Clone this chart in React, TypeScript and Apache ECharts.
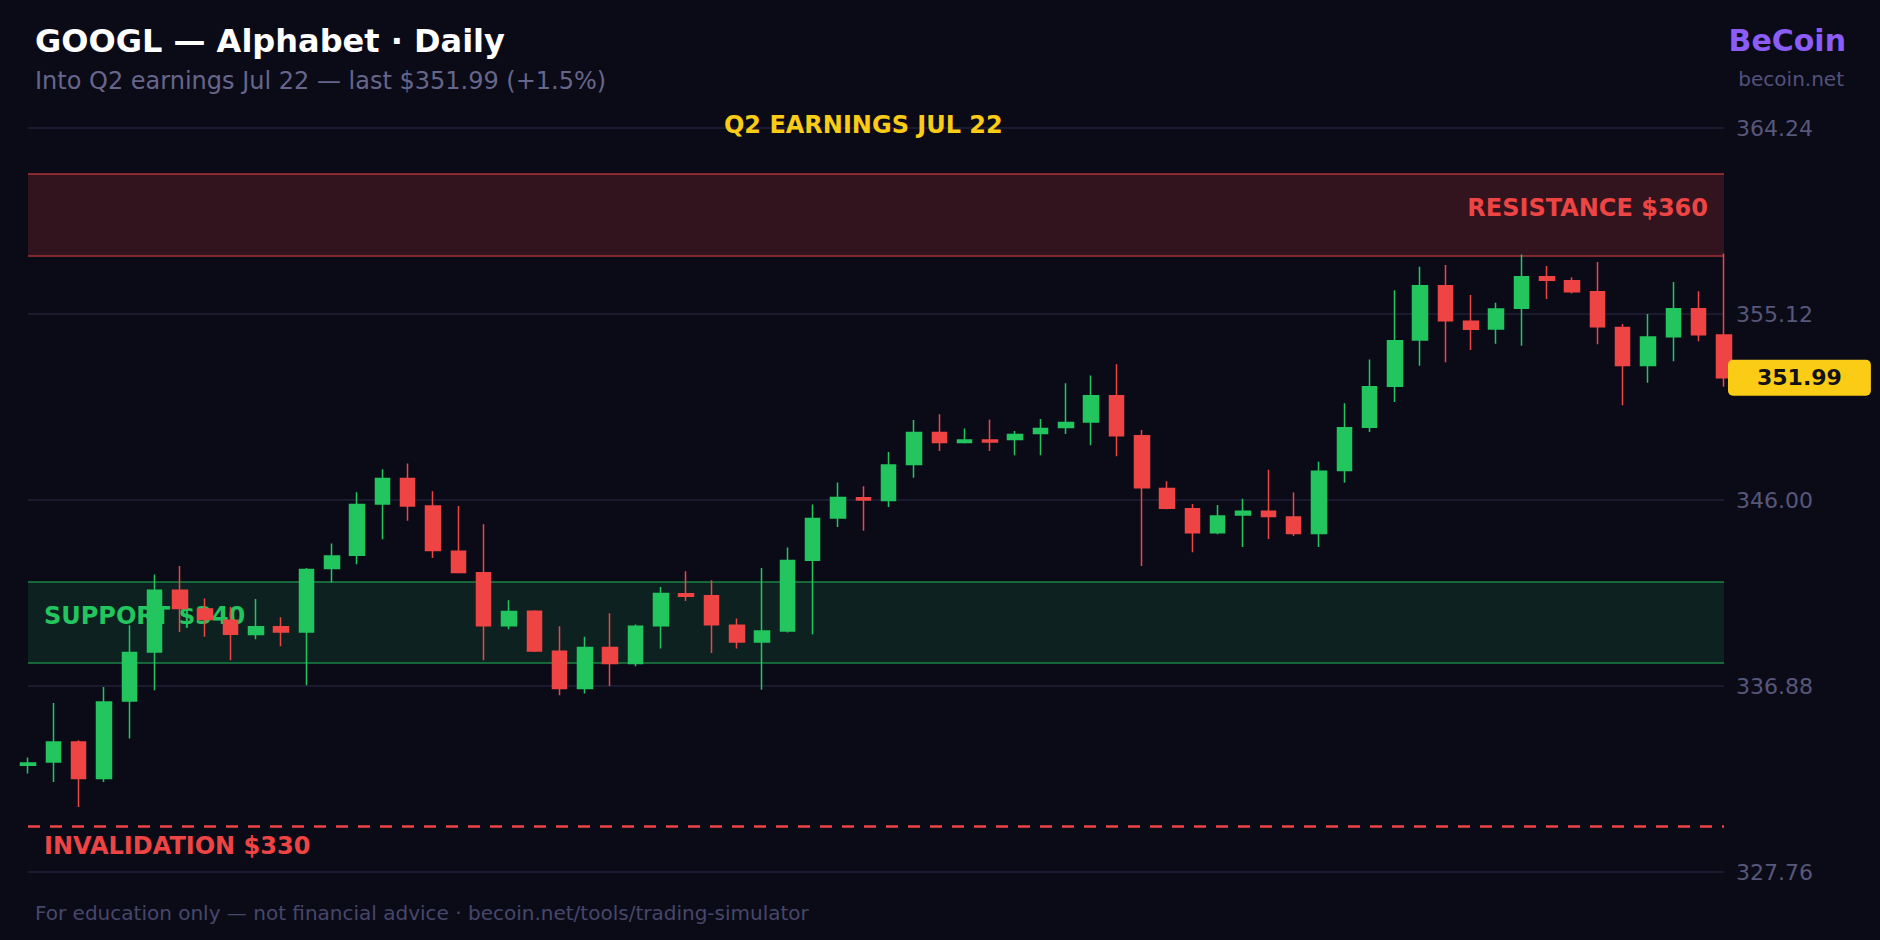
import React, { useEffect, useRef } from "react";
import * as echarts from "echarts";

// ---------- data ----------
const categories = Array.from({ length: 68 }, (_, i) => `D${i + 1}`);

const opens = [
  333.0, 333.15, 334.14, 332.34, 336.15, 338.55, 341.58, 340.65, 340.11, 339.4,
  339.78, 339.53, 342.64, 343.29, 345.81, 347.06, 345.7, 343.49, 342.43, 339.83,
  340.55, 338.59, 336.76, 338.77, 337.98, 339.83, 341.4, 341.3, 339.86, 339.04,
  339.58, 343.05, 345.12, 346.11, 345.98, 347.74, 349.31, 348.82, 348.94, 348.97,
  349.26, 349.56, 349.83, 351.11, 349.15, 346.57, 345.57, 344.39, 345.26, 345.45,
  345.17, 344.36, 347.45, 349.57, 351.58, 353.84, 356.5, 354.77, 354.38, 355.4,
  356.95, 356.75, 356.21, 354.46, 352.6, 354.0, 355.38, 354.09,
];
const closes = [
  333.1, 334.14, 332.34, 336.1, 338.52, 341.58, 340.68, 340.14, 339.42, 339.78,
  339.53, 342.59, 343.26, 345.78, 347.06, 345.71, 343.52, 342.45, 339.83, 340.53,
  338.6, 336.76, 338.77, 337.98, 339.81, 341.42, 341.28, 339.88, 339.04, 339.58,
  343.03, 345.09, 346.12, 346.0, 347.72, 349.31, 348.82, 348.94, 348.84, 349.21,
  349.51, 349.8, 351.11, 349.15, 346.6, 345.59, 344.39, 345.22, 345.45, 345.19,
  344.36, 347.41, 349.54, 351.55, 353.81, 356.5, 354.79, 354.37, 355.36, 356.95,
  356.78, 356.21, 354.49, 352.6, 353.99, 355.38, 354.1, 351.99,
];
const lows = [
  332.59, 332.17, 330.95, 332.17, 334.3, 336.67, 339.53, 339.29, 338.14, 339.17,
  338.83, 336.92, 341.95, 342.85, 344.08, 344.98, 343.16, 342.45, 338.14, 339.66,
  338.55, 336.43, 336.51, 336.88, 337.85, 338.72, 341.05, 338.5, 338.72, 336.7,
  339.5, 339.42, 344.68, 344.49, 345.66, 347.09, 348.4, 348.77, 348.4, 348.2,
  348.2, 349.24, 348.69, 348.14, 342.77, 345.55, 343.44, 344.32, 343.7, 344.09,
  344.23, 343.7, 346.84, 349.34, 350.81, 352.58, 352.76, 353.35, 353.66, 353.56,
  355.85, 356.13, 353.64, 350.64, 351.75, 352.8, 353.78, 351.55,
];
const highs = [
  333.37, 336.05, 334.22, 336.83, 339.86, 342.35, 342.77, 341.17, 340.76, 341.14,
  340.25, 342.67, 343.87, 346.38, 347.51, 347.79, 346.43, 345.7, 344.81, 341.09,
  340.6, 339.81, 339.29, 340.45, 339.89, 341.74, 342.51, 342.07, 340.19, 342.67,
  343.67, 345.78, 346.86, 346.68, 348.35, 349.92, 350.21, 349.51, 349.95, 349.38,
  349.97, 351.72, 352.11, 352.66, 349.43, 346.92, 345.8, 345.75, 346.06, 347.48,
  346.37, 347.87, 350.74, 352.89, 356.29, 357.44, 357.52, 356.05, 355.67, 358.04,
  357.47, 356.92, 357.67, 354.63, 355.12, 356.69, 356.24, 358.09,
];

const yTicks = [327.76, 336.88, 346.0, 355.12, 364.24];
const resistanceBand = [358, 362];
const supportBand = [338, 342];
const invalidationLevel = 330;
const lastPrice = 351.99;
const earningsIndex = 33;

// ---------- styles ----------
const FONT = '"DejaVu Sans", sans-serif';
const BG = "#0b0b18";
const GREEN = "#22c55e";
const RED = "#ef4444";
const YELLOW = "#facc15";

export default function App() {
  const ref = useRef<HTMLDivElement>(null);

  useEffect(() => {
    document.body.style.margin = "0";
    document.body.style.background = BG;
    if (!ref.current) return;
    const chart = echarts.init(ref.current, undefined, { renderer: "svg" });

    const ohlc = opens.map((o, i) => [o, closes[i], lows[i], highs[i]]);
    const interval = Math.round((yTicks[1] - yTicks[0]) * 100) / 100;

    const bandLine = (v: number, color: string) => ({
      yAxis: v,
      lineStyle: { color, width: 2, type: "solid" },
      label: { show: false },
    });

    chart.setOption({
      animation: false,
      backgroundColor: BG,
      grid: { left: 28, right: 156, top: 128, bottom: 68 },
      xAxis: {
        type: "category",
        data: categories,
        boundaryGap: false,
        axisLine: { show: false },
        axisTick: { show: false },
        axisLabel: { show: false },
        splitLine: { show: false },
      },
      yAxis: {
        type: "value",
        position: "right",
        min: yTicks[0],
        max: yTicks[yTicks.length - 1],
        interval,
        axisLine: { show: false },
        axisTick: { show: false },
        axisLabel: {
          margin: 12,
          color: "#57577a",
          fontSize: 22,
          fontFamily: FONT,
          formatter: (v: number) => v.toFixed(2),
        },
        splitLine: { lineStyle: { color: "#20203a", width: 1.5 } },
      },
      series: [
        {
          type: "line",
          data: [],
          z: 1,
          silent: true,
          symbol: "none",
          markArea: {
            silent: true,
            z: 1,
            data: [
              [
                {
                  yAxis: resistanceBand[0],
                  itemStyle: { color: "rgba(239,68,68,0.17)" },
                  label: {
                    show: true,
                    position: "insideRight",
                    distance: 16,
                    offset: [0, -6],
                    formatter: `RESISTANCE $${resistanceBand.reduce((a, b) => a + b) / 2}`,
                    color: RED,
                    fontSize: 24,
                    fontWeight: "bold",
                    fontFamily: FONT,
                  },
                },
                { yAxis: resistanceBand[1] },
              ],
              [
                {
                  yAxis: supportBand[0],
                  itemStyle: { color: "rgba(34,197,94,0.13)" },
                  label: {
                    show: true,
                    position: "insideLeft",
                    distance: 16,
                    offset: [0, -6],
                    formatter: `SUPPORT $${supportBand.reduce((a, b) => a + b) / 2}`,
                    color: GREEN,
                    fontSize: 24,
                    fontWeight: "bold",
                    fontFamily: FONT,
                  },
                },
                { yAxis: supportBand[1] },
              ],
            ],
          },
          markLine: {
            silent: true,
            z: 1,
            symbol: ["none", "none"],
            label: { show: false },
            data: [
              bandLine(resistanceBand[0], "rgba(239,68,68,0.5)"),
              bandLine(resistanceBand[1], "rgba(239,68,68,0.5)"),
              bandLine(supportBand[0], "rgba(34,197,94,0.45)"),
              bandLine(supportBand[1], "rgba(34,197,94,0.45)"),
              {
                yAxis: invalidationLevel,
                lineStyle: { color: RED, width: 2.5, type: [12, 10] },
                label: {
                  show: true,
                  position: "insideStartBottom",
                  distance: [16, 8],
                  formatter: `INVALIDATION $${invalidationLevel}`,
                  color: RED,
                  fontSize: 24,
                  fontWeight: "bold",
                  fontFamily: FONT,
                },
              },
            ],
          },
        },
        {
          type: "candlestick",
          z: 2,
          data: ohlc,
          barWidth: 15,
          clip: false,
          itemStyle: {
            color: GREEN,
            color0: RED,
            borderColor: GREEN,
            borderColor0: RED,
            borderWidth: 1.5,
          },
          markLine: {
            silent: true,
            symbol: ["none", "none"],
            lineStyle: { color: "transparent", width: 0 },
            data: [
              {
                yAxis: lastPrice,
                label: {
                  show: true,
                  position: "end",
                  distance: 4,
                  formatter: lastPrice.toFixed(2),
                  backgroundColor: YELLOW,
                  color: "#111118",
                  fontSize: 22,
                  fontWeight: "bold",
                  fontFamily: FONT,
                  padding: [7, 29],
                  borderRadius: 5,
                },
              },
            ],
          },
          markPoint: {
            silent: true,
            symbol: "circle",
            symbolSize: 0,
            data: [
              {
                coord: [categories[earningsIndex], yTicks[yTicks.length - 1]],
                label: {
                  show: true,
                  position: "inside",
                  offset: [0, -3],
                  formatter: "Q2 EARNINGS JUL 22",
                  color: YELLOW,
                  fontSize: 24,
                  fontWeight: "bold",
                  fontFamily: FONT,
                },
              },
            ],
          },
        },
      ],
      graphic: [
        {
          type: "text",
          x: 35,
          y: 40.5,
          style: {
            text: "GOOGL — Alphabet · Daily",
            fill: "#ffffff",
            fontSize: 32,
            fontWeight: "bold",
            fontFamily: FONT,
            textAlign: "left",
            textVerticalAlign: "middle",
            align: "left",
            verticalAlign: "middle",
          },
        },
        {
          type: "text",
          x: 35,
          y: 81.3,
          style: {
            text: "Into Q2 earnings Jul 22 — last $351.99 (+1.5%)",
            fill: "#66668a",
            fontSize: 24,
            fontFamily: FONT,
            textAlign: "left",
            textVerticalAlign: "middle",
            align: "left",
            verticalAlign: "middle",
          },
        },
        {
          type: "text",
          x: 1846,
          y: 40.8,
          style: {
            text: "BeCoin",
            fill: "#8b5cf6",
            fontSize: 30,
            fontWeight: "bold",
            fontFamily: FONT,
            textAlign: "right",
            textVerticalAlign: "middle",
            align: "right",
            verticalAlign: "middle",
          },
        },
        {
          type: "text",
          x: 1844,
          y: 78.7,
          style: {
            text: "becoin.net",
            fill: "#52527a",
            fontSize: 20,
            fontFamily: FONT,
            textAlign: "right",
            textVerticalAlign: "middle",
            align: "right",
            verticalAlign: "middle",
          },
        },
        {
          type: "text",
          x: 35,
          y: 913,
          style: {
            text: "For education only — not financial advice · becoin.net/tools/trading-simulator",
            fill: "#47476a",
            fontSize: 20,
            fontFamily: FONT,
            textAlign: "left",
            textVerticalAlign: "middle",
            align: "left",
            verticalAlign: "middle",
          },
        },
      ],
    });

    return () => chart.dispose();
  }, []);

  return <div ref={ref} style={{ width: 1880, height: 940, background: BG }} />;
}
